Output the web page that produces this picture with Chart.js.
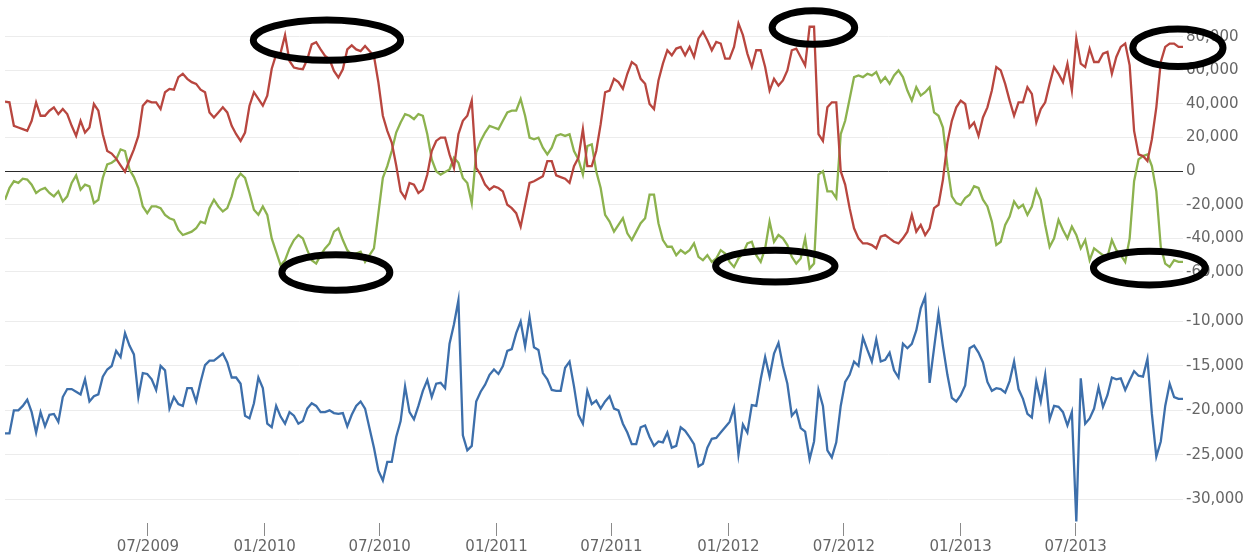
<!DOCTYPE html>
<html>
<head>
<meta charset="utf-8">
<script src="https://cdn.jsdelivr.net/npm/chart.js@4/dist/chart.umd.min.js"></script>
<style>
html,body{margin:0;padding:0;background:#fff;}
#wrap{width:1250px;height:556px;}
</style>
</head>
<body>
<div id="wrap"><canvas id="c" width="1250" height="556"></canvas></div>
<script>
// ---- categories: weekly report dates ----
const firstWeek = '2008-11-18';
const weekStepDays = 7;

// ---- tick labels ----
const xTickLabels = ['07/2009','01/2010','07/2010','01/2011','07/2011','01/2012','07/2012','01/2013','07/2013'];
const topTicks = [-60000,-40000,-20000,0,20000,40000,60000,80000];
const bottomTicks = [-30000,-25000,-20000,-15000,-10000];

// ---- series (weekly) ----
const redSeries = [
41400,41000,27000,26000,25000,24000,30000,41000,33000,33000,
36000,38000,34000,37000,34000,27000,21000,30000,23000,26000,
40000,36000,22000,12000,10500,7500,3500,-400,6500,13000,
21000,39000,42000,41000,41000,37000,47000,49000,48500,56000,
58000,55000,53000,52000,48500,47000,35000,32000,35000,38000,
35000,27000,22000,18000,23000,39000,47000,43000,39000,45000,
61000,69500,70500,81000,65600,61700,61000,60700,66600,75500,
76800,72500,68600,66600,59700,55800,60700,72500,74900,72500,
71500,74500,71500,68600,52800,33000,24000,17000,3500,-12000,
-16000,-7000,-8000,-13000,
-11000,-2000,12000,18000,20000,20000,10000,2000,22000,30000,
33000,42000,2000,-2000,-8000,-11000,-9000,-10000,-12000,-20000,
-22000,-25000,-33000,-20000,-7000,-6000,-4500,-3000,6000,6000,
-2500,-3500,-4500,-7000,3000,8000,25000,3000,3000,12000,
28000,47000,48000,55000,53000,49000,58000,65000,63000,55000,
52000,40000,37000,54000,64000,72000,69000,73000,74000,69000,
74000,68000,79000,83000,78000,72000,77000,76000,67000,67000,
74000,88000,81000,70000,62000,72000,72000,62000,48000,55000,
51000,54000,60000,72000,73000,68000,63000,86000,86000,22000,
18000,38000,
41000,41000,0,-8000,-22000,-34000,-40000,-43000,-43000,-44000,
-46000,-39000,-38000,-40000,-42000,-43000,-40000,-36000,-26000,-36000,
-32000,-38000,-34000,-22000,-20000,-5000,17000,30000,38000,42000,
40000,26000,29000,21000,32000,38000,48000,62000,60000,52000,
42000,33000,41000,41000,50000,46000,29000,37000,41000,52000,
62000,58000,53000,64000,48000,79000,64000,62000,73000,65000,
65000,70000,71000,58000,68000,74000,76000,63000,24000,10000,
9000,6000,19000,38000,65000,74000,76000,76000,74000,74000
];
const greenSeries = [
-17000,-10000,-6000,-7000,-4500,-5000,-8000,-13000,-11000,-10000,
-13000,-15000,-12000,-18000,-15000,-7000,-2500,-11000,-8000,-9000,
-19000,-17000,-4000,4000,5000,7000,13000,12000,1000,-3500,
-10000,-21000,-25000,-21000,-21000,-22000,-26000,-28000,-29000,-35000,
-38000,-37000,-36000,-34000,-30000,-31000,-22000,-17000,-21000,-24000,
-22000,-15000,-5000,-1500,-4000,-13000,-23000,-26000,-21000,-26000,
-40000,-48000,-56000,-53000,-46000,-41000,-38000,-40000,-47000,-53000,
-55000,-50000,-46000,-43000,-36000,-34000,-41000,-47000,-50000,-49000,
-48000,-54000,-50000,-46000,-25000,-4000,3000,12000,23000,29000,
34000,33000,31000,34000,
33000,22000,7000,0,-2000,-500,1000,8000,5000,-4000,
-7000,-19000,11000,18000,23000,27000,26000,25000,30000,35000,
36000,36000,43000,33000,20000,19000,20000,14000,10000,14000,
21000,22000,21000,22000,12000,7000,-2000,15000,16000,0,
-10000,-26000,-30000,-36000,-32000,-28000,-37000,-41000,-36000,-31000,
-28000,-14000,-14000,-31000,-41000,-45000,-45000,-50000,-47000,-49000,
-47000,-43000,-51000,-53000,-50000,-54000,-52000,-47000,-49000,-54000,
-57000,-52000,-49000,-43000,-42000,-50000,-54000,-46000,-30000,-42000,
-38000,-40000,-44000,-51000,-55000,-52000,-40000,-58000,-55000,-2000,
0,-12000,
-12000,-16000,22000,30000,43000,56000,57000,56000,58000,57000,
59000,53000,56000,52000,57000,60000,56000,48000,42000,50000,
45000,47000,50000,35000,33000,26000,3000,-15000,-19000,-20000,
-16000,-14000,-9000,-10000,-17000,-21000,-30000,-44000,-42000,-32000,
-27000,-18000,-22000,-20000,-26000,-21000,-11000,-17000,-32000,-45000,
-40000,-29000,-35000,-40000,-33000,-38000,-46000,-41000,-53000,-46000,
-48000,-50000,-51000,-41000,-47000,-50000,-54000,-40000,-6000,7000,
9000,10000,3000,-12000,-45000,-55000,-57000,-53000,-54000,-54000
];
const blueSeries = [
-22600,-22600,-20000,-20000,-19500,-18800,-20200,-22500,-20200,-21800,
-20500,-20400,-21300,-18500,-17600,-17600,-17900,-18200,-16500,-19000,
-18400,-18200,-16200,-15400,-15000,-13300,-14000,-11300,-12700,-13700,
-18500,-15800,-15900,-16500,-17700,-15000,-15500,-19800,-18500,-19300,
-19500,-17500,-17500,-19000,-16800,-14900,-14400,-14400,-14000,-13600,
-14600,-16300,-16300,-17000,-20600,-20900,-19200,-16300,-17500,-21500,
-21900,-19500,-20700,-21500,-20200,-20600,-21500,-21200,-19800,-19200,
-19500,-20200,-20200,-20000,-20300,-20400,-20300,-21800,-20500,-19500,
-19000,-19800,-22000,-24200,-26800,-27900,-25800,-25800,-23000,-21200,
-17300,-20200,-21000,-19500,
-17800,-16600,-18500,-17000,-16900,-17500,-12500,-10300,-7600,-22800,
-24500,-24000,-19000,-17900,-17100,-16000,-15400,-15900,-15000,-13300,
-13100,-11300,-10000,-12800,-9500,-12900,-13200,-15800,-16500,-17700,
-17800,-17800,-15200,-14500,-17300,-20500,-21500,-17800,-19300,-18900,
-19800,-19000,-18400,-19800,-20000,-21500,-22500,-23800,-23800,-21900,
-21700,-23000,-24000,-23500,-23600,-22500,-24200,-24000,-21900,-22300,
-23000,-23800,-26300,-26000,-24200,-23200,-23100,-22500,-21900,-21300,
-19700,-25000,-21600,-22500,-19400,-19500,-16500,-14000,-16200,-13600,
-12400,-15000,-17000,-20600,-20000,-22000,-22400,-25500,-23500,-17700,
-19500,-24500,
-25300,-23600,-19500,-16800,-16000,-14500,-15000,-11800,-13200,-14500,
-12000,-14500,-14300,-13500,-15500,-16300,-12500,-13000,-12500,-11000,
-8500,-7200,-16900,-13000,-9100,-12800,-16000,-18600,-19000,-18300,
-17200,-13000,-12700,-13500,-14600,-16800,-17800,-17500,-17600,-18000,
-16700,-14500,-17600,-18700,-20400,-20800,-16800,-19000,-16000,-21000,
-19500,-19600,-20200,-21700,-20200,-32500,-16400,-21500,-20900,-19800,
-17400,-19600,-18300,-16300,-16500,-16400,-17700,-16600,-15600,-16100,
-16200,-14200,-20400,-25200,-23500,-19500,-17000,-18500,-18700,-18700
];

// ---- hand-drawn ellipse annotations (center date, value, half-extent in days / value) ----
const markDates  = ['2010-04-09','2010-04-23','2012-05-14','2012-03-15','2013-12-09','2013-10-25'];
const markValues = [78000,-60300,85500,-56500,73500,-57700];
const markHalfDays = [116,85,65,94,71,88];
const markHalfValues = [12000,10600,10000,9500,11200,10000];

// ---- helpers ----
const DAY = 86400000;
const startMs = Date.parse(firstWeek + 'T00:00:00Z');
function dayOf(dateStr){ return (Date.parse(dateStr + 'T00:00:00Z') - startMs) / DAY; }
function labelDay(lbl){ const [m,y] = lbl.split('/'); return (Date.UTC(+y, +m - 1, 1) - startMs) / DAY; }
function toPoints(arr){ return arr.map((v,i) => ({x: i * weekStepDays, y: v})); }
const xTickDays = xTickLabels.map(labelDay);
const lastDay = (redSeries.length - 1) * weekStepDays;

const FONT = {family: '"DejaVu Sans", sans-serif', size: 15};
const TXT = '#666666';

const ellipsePlugin = {
  id: 'ellipses',
  afterDraw(chart){
    const ctx = chart.ctx, xs = chart.scales.x, ys = chart.scales.yTop;
    ctx.save();
    ctx.strokeStyle = '#000';
    ctx.lineWidth = 7;
    markDates.forEach((d, k) => {
      const cd = dayOf(d);
      const cx = xs.getPixelForValue(cd);
      const cy = ys.getPixelForValue(markValues[k]);
      const rx = Math.abs(xs.getPixelForValue(cd + markHalfDays[k]) - cx);
      const ry = Math.abs(ys.getPixelForValue(markValues[k] + markHalfValues[k]) - cy);
      ctx.beginPath();
      ctx.ellipse(cx, cy, rx, ry, 0, 0, Math.PI * 2);
      ctx.stroke();
    });
    ctx.restore();
  }
};

function yAxis(ticksArr, min, max, weight, zeroLine){
  return {
    type: 'linear', position: 'right', stack: 'panels', stackWeight: weight,
    min: min, max: max,
    afterBuildTicks: s => { s.ticks = ticksArr.map(v => ({value: v})); },
    afterFit: s => { s.width = 67; },
    border: {display: false},
    grid: {
      drawTicks: false,
      color: c => (zeroLine && c.tick && c.tick.value === 0) ? '#2a2a2a' : '#ececec',
      lineWidth: 1
    },
    ticks: {
      padding: 3, color: TXT, font: FONT, autoSkip: false,
      callback: v => v.toLocaleString('en-US')
    }
  };
}

new Chart(document.getElementById('c'), {
  type: 'line',
  data: {
    datasets: [
      {data: toPoints(redSeries), yAxisID: 'yTop', borderColor: '#b8463f', borderWidth: 2.3, pointRadius: 0, tension: 0},
      {data: toPoints(greenSeries), yAxisID: 'yTop', borderColor: '#8cb24e', borderWidth: 2.3, pointRadius: 0, tension: 0},
      {data: toPoints(blueSeries), yAxisID: 'yBot', borderColor: '#3d6fab', borderWidth: 2.3, pointRadius: 0, tension: 0}
    ]
  },
  options: {
    responsive: false,
    animation: false,
    devicePixelRatio: 1,
    layout: {padding: {top: 8, left: 5, right: 0, bottom: 0}},
    plugins: {legend: {display: false}, tooltip: {enabled: false}, title: {display: false}},
    scales: {
      x: {
        type: 'linear', position: 'bottom', min: 0, max: lastDay,
        afterBuildTicks: s => { s.ticks = xTickDays.map(v => ({value: v})); },
        afterFit: s => { s.height = 33; },
        border: {display: false},
        grid: {display: true, drawOnChartArea: false, drawTicks: true, tickLength: 13, tickColor: '#8a8a8a', tickWidth: 1},
        ticks: {
          padding: 2, color: TXT, font: FONT, autoSkip: false, maxRotation: 0,
          callback: v => { const k = xTickDays.indexOf(v); return k >= 0 ? xTickLabels[k] : ''; }
        }
      },
      yTop: yAxis(topTicks, -67680, 94770, 275, true),
      yBot: yAxis(bottomTicks, -32680, -5870, 240, false)
    }
  },
  plugins: [ellipsePlugin]
});
</script>
</body>
</html>
